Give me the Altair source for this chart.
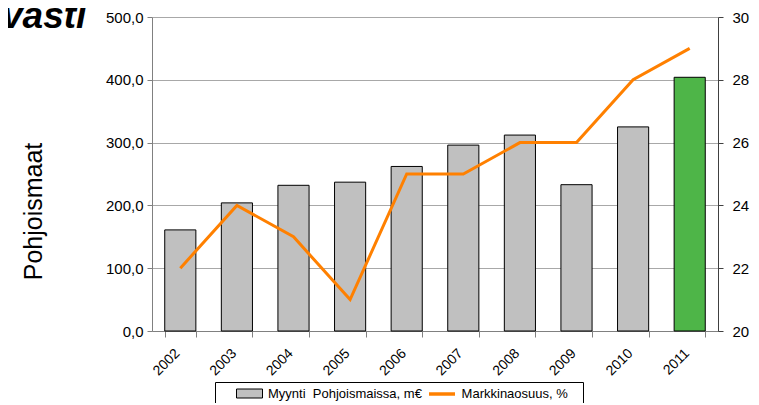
import altair as alt
import pandas as pd

years = ["2002", "2003", "2004", "2005", "2006", "2007", "2008", "2009", "2010", "2011"]
sales = [161, 204, 232, 237, 262, 296, 312, 233, 325, 404]
share = [22, 24, 23, 21, 25, 25, 26, 26, 28, 29]
bar_name = "Myynti\u00a0 Pohjoismaissa, m€"
line_name = "Markkinaosuus, %"
left_ticks = [0, 100, 200, 300, 400, 500]
right_ticks = [20, 22, 24, 26, 28, 30]

df = pd.DataFrame({"year": years, "sales": sales, "share": share,
                   "s1": [bar_name] * len(years), "s2": [line_name] * len(years)})

FONT = "Liberation Sans"
GAP = "\u00a0" * 11
# legend text of the bar entry also carries the line entry's label, leaving room for its symbol
LABEL1 = "datum.label + '" + GAP + line_name + "\u2800'"

x = alt.X("year:N", scale=alt.Scale(paddingInner=0.45, paddingOuter=0.225),
          axis=alt.Axis(title=None, tickBand="extent", labelAngle=-45, labelFontSize=14,
                        labelFont=FONT, labelColor="black", domainColor="#808080",
                        tickColor="#808080", tickSize=6, grid=False, labelPadding=14,
                        labelOffset=-3, labelBaseline="middle", labelAlign="right"))

bars = alt.Chart(df).mark_bar(stroke="black", strokeWidth=1).encode(
    x=x,
    y=alt.Y("sales:Q", scale=alt.Scale(domain=[0, 500], nice=False),
            axis=alt.Axis(values=left_ticks,
                          labelExpr="replace(format(datum.value, '.1f'), '.', ',')",
                          labelFontSize=15, labelFont=FONT, labelColor="black",
                          grid=True, gridColor="#A8A8A8", domainColor="#808080",
                          tickColor="#808080", tickSize=5, labelPadding=4,
                          title="Pohjoismaat", titleFont=FONT, titleFontSize=25,
                          titleFontWeight="normal", titleColor="black",
                          titleX=-119, titleY=194, titleAlign="center",
                          titleBaseline="middle", titleAngle=270)),
    fill=alt.condition(alt.datum.year == "2011", alt.value("#4EB548"),
                       alt.Fill("s1:N", scale=alt.Scale(range=["#C0C0C0"]),
                                legend=alt.Legend(title=None, orient="none", legendX=63, legendY=365,
                                                  direction="horizontal",
                                                  symbolType="M-2.6,-0.9H2.6V0.9H-2.6Z",
                                                  symbolSize=100, symbolStrokeColor="black",
                                                  symbolStrokeWidth=1, strokeColor="black",
                                                  padding=5, symbolOffset=23, labelOffset=12,
                                                  labelFont=FONT, labelFontSize=13,
                                                  labelColor="black", labelLimit=700,
                                                  labelExpr=LABEL1))),
)

line = alt.Chart(df).mark_line(strokeWidth=3).encode(
    x=x,
    y=alt.Y("share:Q", scale=alt.Scale(domain=[20, 30], nice=False, zero=False),
            axis=alt.Axis(values=right_ticks, orient="right", grid=False, labelFontSize=15,
                          labelFont=FONT, labelColor="black", domainColor="#404040",
                          tickColor="#404040", tickSize=5, labelPadding=9, title=None)),
    stroke=alt.Stroke("s2:N", scale=alt.Scale(range=["#FF8000"]),
                      legend=alt.Legend(title=None, orient="none", legendX=283, legendY=370,
                                        direction="horizontal", symbolType="M-2.6,0H2.6",
                                        symbolSize=100, symbolStrokeWidth=3.5, padding=0,
                                        labelExpr="''", labelFontSize=13, labelFont=FONT)),
)

chart = alt.layer(bars, line).resolve_scale(y="independent", fill="independent", stroke="independent").properties(
    width=566, height=314,
    autosize=alt.AutoSizeParams(type="none"),
    padding={"left": 144, "top": 9, "right": 33, "bottom": 72},
    title=alt.TitleParams(text="vasti", anchor="start", frame="group", orient="top",
                          offset=0, dx=-150, dy=55, baseline="alphabetic",
                          font=FONT, fontSize=37, fontWeight="bold", fontStyle="italic",
                          color="black"),
).configure_view(strokeWidth=0)

chart.save("out.html", embed_options={"renderer": "svg", "actions": False})
